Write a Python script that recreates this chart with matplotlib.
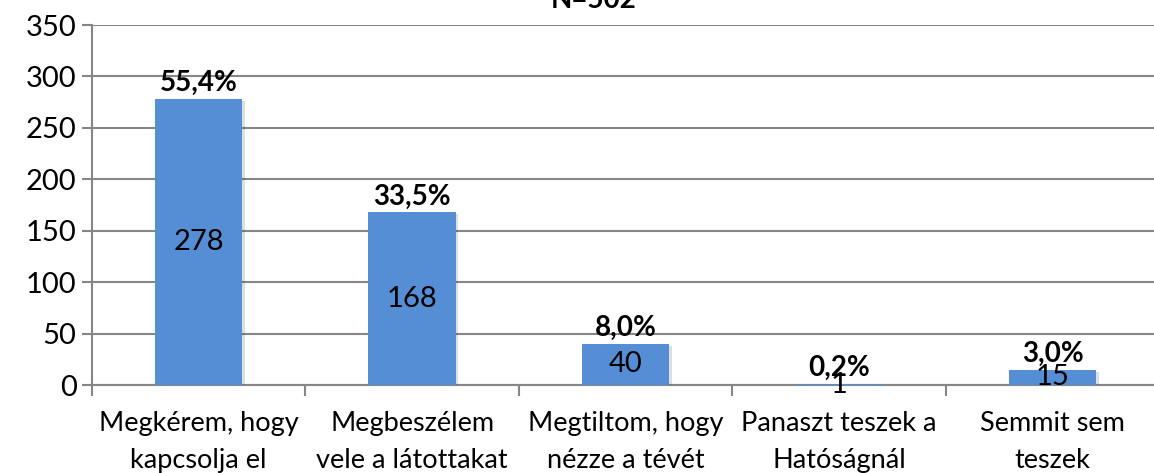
import numpy as np
import matplotlib.pyplot as plt
import matplotlib.patheffects as pe

# Data
categories = ['Megkérem, hogy\nkapcsolja el',
              'Megbeszélem\nvele a látottakat',
              'Megtiltom, hogy\nnézze a tévét',
              'Panaszt teszek a\nHatóságnál',
              'Semmit sem\nteszek']
counts = [278, 168, 40, 1, 15]
percents = ['55,4%', '33,5%', '8,0%', '0,2%', '3,0%']
yticks = [0, 50, 100, 150, 200, 250, 300, 350]

plt.rcParams['font.family'] = ['Lato', 'DejaVu Sans']

fig = plt.figure(figsize=(11.54, 4.73), dpi=100)
ax = fig.add_axes([0.0797, 0.186, 0.925, 0.761])

grid_col = '#868686'
bar_col = '#558ED5'
x = np.arange(len(categories))

bars = ax.bar(x, counts, width=0.41, color=bar_col, zorder=3,
              path_effects=[pe.SimplePatchShadow(offset=(1.5, -1.5), alpha=0.15), pe.Normal()])

for xi, c, p in zip(x, counts, percents):
    ax.text(xi, c / 2, str(c), ha='center', va='center', fontsize=21, color='black', zorder=4)
    ax.annotate(p, (xi, c), xytext=(0, 2), textcoords='offset points',
                ha='center', va='bottom', fontsize=20, fontweight='bold', zorder=4)

ax.set_xlim(-0.5, len(categories) - 0.5)
ax.set_ylim(0, 350)
ax.set_yticks(yticks)
ax.set_yticklabels([str(t) for t in yticks], fontsize=21)
ax.yaxis.grid(True, color=grid_col, linewidth=1.5, zorder=0)
ax.tick_params(axis='y', length=7, width=1.5, color=grid_col, pad=4)

# category ticks sit between the bars
ax.set_xticks(x)
ax.set_xticklabels(categories, fontsize=19.5, linespacing=1.6)
ax.tick_params(axis='x', length=0, pad=19)
ax.set_xticks(np.arange(len(categories) + 1) - 0.5, minor=True)
ax.tick_params(axis='x', which='minor', length=8, width=1.5, color=grid_col)

for side in ['top', 'right']:
    ax.spines[side].set_visible(False)
for side in ['left', 'bottom']:
    ax.spines[side].set_color(grid_col)
    ax.spines[side].set_linewidth(1.5)

fig.text(0.514, 1.0, 'N=502', ha='center', va='center', fontsize=20, fontweight='bold')

fig.savefig('out.png', dpi=100)
